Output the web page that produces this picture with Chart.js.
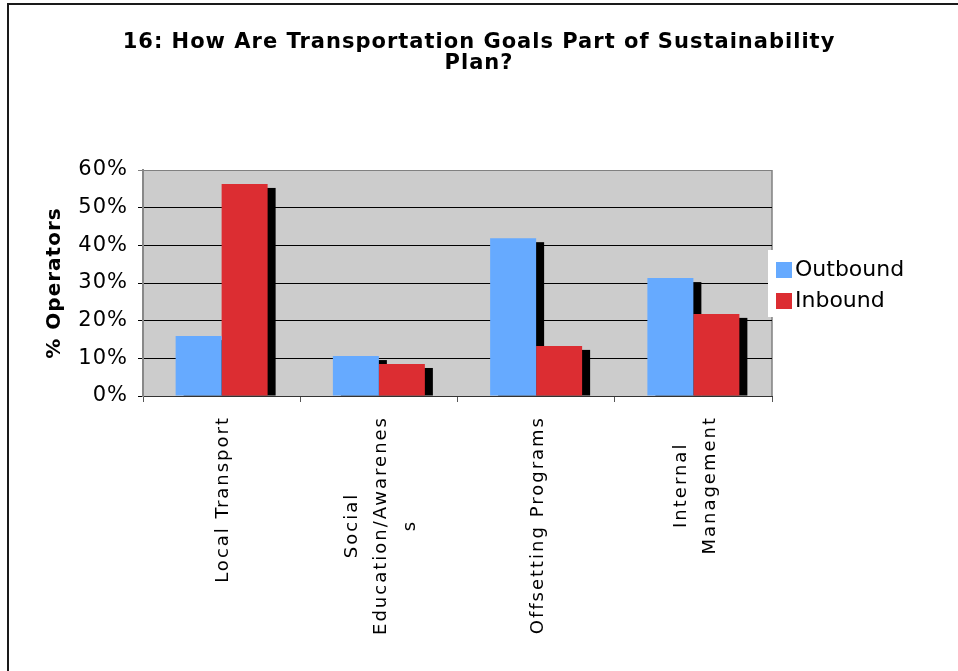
<!DOCTYPE html>
<html>
<head>
<meta charset="utf-8">
<title>16: How Are Transportation Goals Part of Sustainability Plan?</title>
<script src="https://cdn.jsdelivr.net/npm/chart.js@4.4.1/dist/chart.umd.min.js"></script>
<style>
  html, body { margin: 0; padding: 0; background: #fff; }
  canvas { display: block; }
</style>
</head>
<body>
<canvas id="goalsChart" width="958" height="671"></canvas>
<script>
// Survey answers, share of operators
const categories = [
    ['Local Transport'],
    ['Social', 'Education/Awarenes', 's'],
    ['Offsetting Programs'],
    ['Internal', 'Management']
];
const outbound = [0.159, 0.106, 0.419, 0.313];
const inbound = [0.563, 0.085, 0.133, 0.218];
const yTicks = [0, 0.1, 0.2, 0.3, 0.4, 0.5, 0.6];

const FONT = 'DejaVu Sans';
const SPACING = '1px';

// wide text, like the old office renderer
const textSpacing = {
    id: 'textSpacing',
    beforeUpdate(chart) { chart.ctx.letterSpacing = SPACING; },
    beforeDraw(chart) { chart.ctx.letterSpacing = SPACING; }
};

// outer frame, grey plot area, right border
const plotFrame = {
    id: 'plotFrame',
    beforeDraw(chart) {
        const { ctx, chartArea: a } = chart;
        ctx.save();
        ctx.fillStyle = '#1a1a1a';
        ctx.fillRect(7, 3, chart.width - 7, 2);
        ctx.fillRect(7, 3, 2, chart.height - 3);
        ctx.fillStyle = '#cccccc';
        ctx.fillRect(a.left, a.top, a.right - a.left, a.bottom - a.top);
        ctx.strokeStyle = '#808080';
        ctx.lineWidth = 1.5;
        ctx.beginPath();
        ctx.moveTo(a.right, a.top);
        ctx.lineTo(a.right, a.bottom);
        ctx.stroke();
        ctx.restore();
    }
};

// hard black shadow behind every bar, all drawn before the bars
const barShadow = {
    id: 'barShadow',
    beforeDatasetsDraw(chart) {
        const { ctx, chartArea: a } = chart;
        ctx.save();
        ctx.beginPath();
        ctx.rect(a.left, a.top, a.right - a.left, a.bottom - a.top);
        ctx.clip();
        ctx.fillStyle = '#000';
        chart.getSortedVisibleDatasetMetas().forEach(meta => {
            meta.data.forEach(bar => {
                const { x, y, base, width } = bar.getProps(['x', 'y', 'base', 'width'], true);
                ctx.fillRect(x - width / 2 + 8, y + 4, width, base - y - 4);
            });
        });
        ctx.restore();
    }
};

// vertical category names, lines centred on each other
const categoryLabels = {
    id: 'categoryLabels',
    afterDraw(chart) {
        const { ctx } = chart;
        const x = chart.scales.x;
        ctx.save();
        ctx.font = `18px "${FONT}"`;
        ctx.letterSpacing = '2px';
        ctx.fillStyle = '#000';
        ctx.textAlign = 'center';
        ctx.textBaseline = 'middle';
        const lineH = 29;
        const top = x.top + 20;
        chart.data.labels.forEach((lines, i) => {
            const cx = x.getPixelForValue(i) + 2;
            const widest = Math.max(...lines.map(l => ctx.measureText(l).width));
            const cy = top + widest / 2;
            lines.forEach((line, j) => {
                ctx.save();
                ctx.translate(cx + (j - (lines.length - 1) / 2) * lineH, cy);
                ctx.rotate(-Math.PI / 2);
                ctx.fillText(line, 0, 0);
                ctx.restore();
            });
        });
        ctx.restore();
    }
};

// legend box sitting on the right edge of the plot
const sideLegend = {
    id: 'sideLegend',
    afterDraw(chart) {
        const { ctx, chartArea: a } = chart;
        const midY = (a.top + a.bottom) / 2;
        ctx.save();
        ctx.letterSpacing = '0px';
        ctx.fillStyle = '#fff';
        ctx.fillRect(a.right - 4, midY - 33, 140, 67);
        ctx.font = `22px "${FONT}"`;
        ctx.textBaseline = 'middle';
        chart.data.datasets.forEach((ds, i) => {
            const y = midY - 13 + i * 31;
            ctx.fillStyle = ds.backgroundColor;
            ctx.fillRect(a.right + 4, y - 8, 16, 16);
            ctx.fillStyle = '#000';
            ctx.fillText(ds.label, a.right + 23, y);
        });
        ctx.restore();
    }
};

new Chart(document.getElementById('goalsChart'), {
    type: 'bar',
    data: {
        labels: categories,
        datasets: [
            {
                label: 'Outbound',
                data: outbound,
                backgroundColor: '#66aaff',
                borderWidth: 0,
                barPercentage: 1,
                categoryPercentage: 0.585
            },
            {
                label: 'Inbound',
                data: inbound,
                backgroundColor: '#dc2d32',
                borderWidth: 0,
                barPercentage: 1,
                categoryPercentage: 0.585
            }
        ]
    },
    options: {
        responsive: false,
        animation: false,
        events: [],
        layout: { padding: 0 },
        plugins: {
            legend: { display: false },
            tooltip: { enabled: false },
            title: {
                display: true,
                text: ['16: How Are Transportation Goals Part of Sustainability', 'Plan?'],
                color: '#000',
                font: { family: FONT, size: 21, weight: 'bold', lineHeight: 1.0 },
                padding: { top: 32.5, bottom: 95.5 }
            }
        },
        scales: {
            x: {
                offset: true,
                afterFit(scale) { scale.height = 275; },
                grid: { offset: true, drawOnChartArea: false, tickLength: 6, color: '#555' },
                border: { color: '#333', width: 1 },
                ticks: { display: false }
            },
            y: {
                min: 0,
                max: 0.6,
                afterFit(scale) { scale.width = 143; },
                afterBuildTicks(scale) { scale.ticks = yTicks.map(v => ({ value: v })); },
                grid: {
                    tickLength: 5,
                    lineWidth: 1,
                    color: ctx => Math.round(ctx.tick.value * 10) === 6 ? '#808080' : '#000'
                },
                border: { color: '#888', width: 2 },
                ticks: {
                    color: '#000',
                    padding: 10,
                    font: { family: FONT, size: 21 },
                    callback: v => Math.round(v * 100) + '%'
                },
                title: {
                    display: true,
                    text: '% Operators',
                    color: '#000',
                    font: { family: FONT, size: 20, weight: 'bold' },
                    padding: { top: 43, bottom: 0 }
                }
            },
            // empty right-hand column that holds the legend
            side: {
                axis: 'y',
                position: 'right',
                afterFit(scale) { scale.width = 186; },
                grid: { display: false, drawTicks: false },
                border: { display: false },
                ticks: { display: false }
            }
        }
    },
    plugins: [textSpacing, plotFrame, barShadow, categoryLabels, sideLegend]
});
</script>
</body>
</html>
